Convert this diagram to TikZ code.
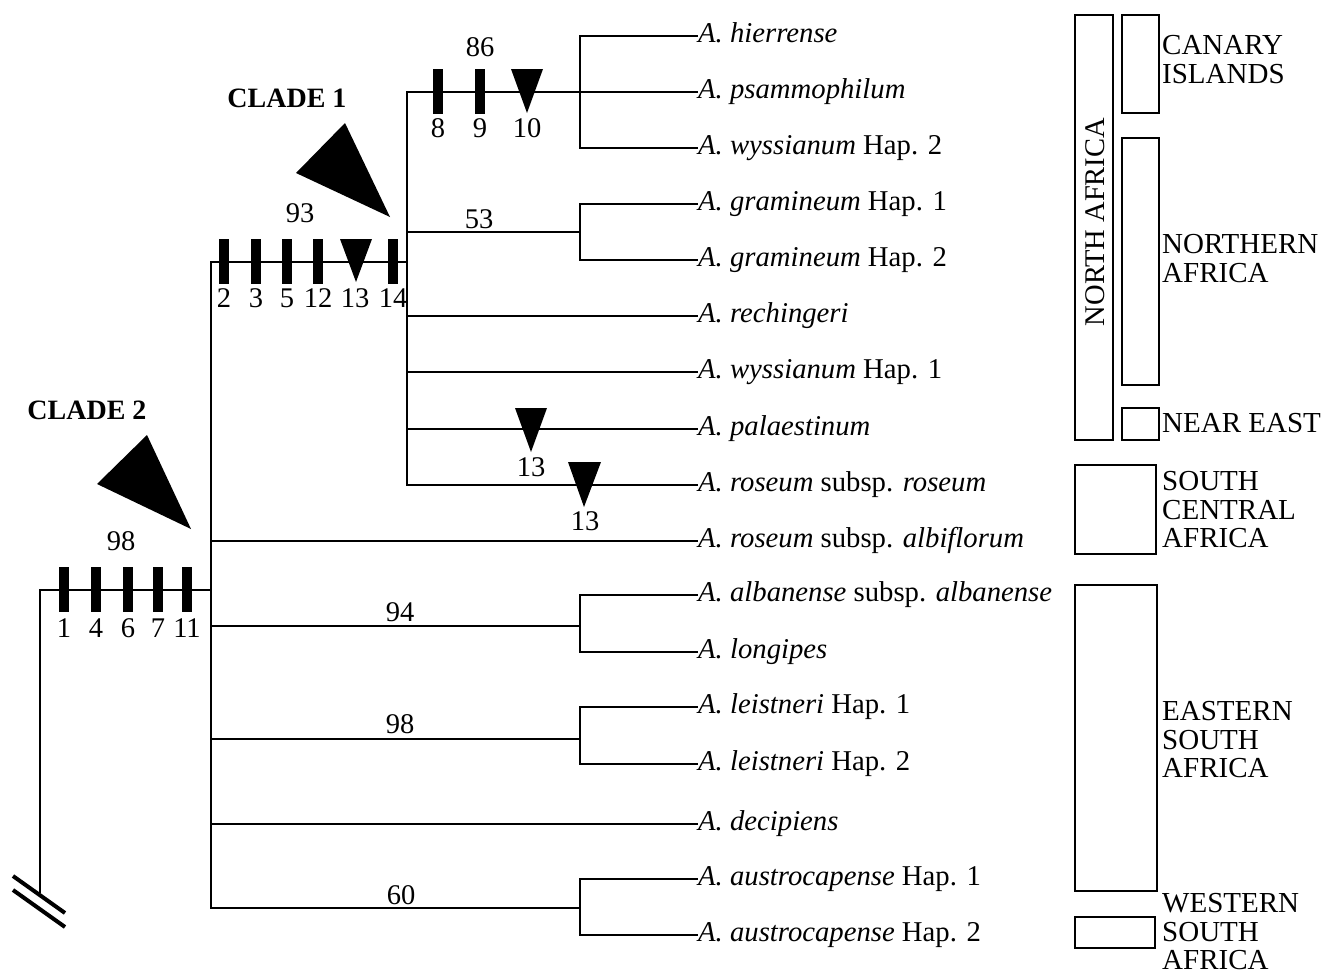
\documentclass[tikz,border=0pt]{standalone}
\usepackage{fontspec}
\setmainfont{Liberation Serif}
\begin{document}
\begin{tikzpicture}[x=1pt,y=-1pt,
  br/.style={line width=1.8pt},
  leaf/.style={anchor=west,inner sep=0pt,text height=19pt,text depth=6pt,font=\fontsize{28.7}{30}\selectfont},
  num/.style={inner sep=0pt,font=\fontsize{28.5}{30}\selectfont},
  clade/.style={inner sep=0pt,font=\fontsize{28}{30}\selectfont\bfseries},
  region/.style={anchor=north west,align=left,inner sep=0pt,font=\fontsize{29}{28.7}\selectfont},
  rbox/.style={draw,line width=1.8pt},
  charbar/.style={fill=black},
  chartri/.style={fill=black},
  hashmark/.style={line width=4pt}]
\useasboundingbox (0,0) rectangle (1322,972);

% leaves
\node[leaf] (hie) at (698,36) {\textit{A. hierrense}};
\node[leaf] (psa) at (698,92) {\textit{A. psammophilum}};
\node[leaf] (wy2) at (698,148) {\textit{A. wyssianum} Hap. 2};
\node[leaf] (gr1) at (698,204) {\textit{A. gramineum} Hap. 1};
\node[leaf] (gr2) at (698,260) {\textit{A. gramineum} Hap. 2};
\node[leaf] (rec) at (698,316) {\textit{A. rechingeri}};
\node[leaf] (wy1) at (698,372) {\textit{A. wyssianum} Hap. 1};
\node[leaf] (pal) at (698,429) {\textit{A. palaestinum}};
\node[leaf] (ros) at (698,485) {\textit{A. roseum} subsp. \textit{roseum}};
\node[leaf] (alb) at (698,541) {\textit{A. roseum} subsp. \textit{albiflorum}};
\node[leaf] (aba) at (698,595) {\textit{A. albanense} subsp. \textit{albanense}};
\node[leaf] (lon) at (698,652) {\textit{A. longipes}};
\node[leaf] (le1) at (698,707) {\textit{A. leistneri} Hap. 1};
\node[leaf] (le2) at (698,764) {\textit{A. leistneri} Hap. 2};
\node[leaf] (dec) at (698,824) {\textit{A. decipiens}};
\node[leaf] (au1) at (698,879) {\textit{A. austrocapense} Hap. 1};
\node[leaf] (au2) at (698,935) {\textit{A. austrocapense} Hap. 2};

% internal nodes
\coordinate (rb) at (40,893);
\coordinate (r) at (40,590);
\coordinate (n2) at (211,590);
\coordinate (n1) at (407,262);
\coordinate (nA) at (580,92);
\coordinate (nG) at (580,232);
\coordinate (nB) at (580,626);
\coordinate (nL) at (580,739);
\coordinate (nS) at (580,908);

% branches
\draw[br] (rb) -- (r) -- (n2);
\draw[br] (n2) |- (n1);
\draw[br] (n2) |- (alb.west);
\draw[br] (n2) |- (nB);
\draw[br] (n2) |- (nL);
\draw[br] (n2) |- (dec.west);
\draw[br] (n2) |- (nS);
\draw[br] (n1) |- (nA);
\draw[br] (n1) |- (nG);
\draw[br] (n1) |- (rec.west);
\draw[br] (n1) |- (wy1.west);
\draw[br] (n1) |- (pal.west);
\draw[br] (n1) |- (ros.west);
\draw[br] (nA) |- (hie.west);
\draw[br] (nA) -- (psa.west);
\draw[br] (nA) |- (wy2.west);
\draw[br] (nG) |- (gr1.west);
\draw[br] (nG) |- (gr2.west);
\draw[br] (nB) |- (aba.west);
\draw[br] (nB) |- (lon.west);
\draw[br] (nL) |- (le1.west);
\draw[br] (nL) |- (le2.west);
\draw[br] (nS) |- (au1.west);
\draw[br] (nS) |- (au2.west);

% root break marks
\draw[hashmark] (13,876) -- (65,913);
\draw[hashmark] (13,890) -- (65,927);

% clade 2 characters
\foreach \x/\t in {64/1,96/4,128/6,158/7,187/11}{
  \fill[charbar] (\x-5,567) rectangle (\x+5,612);
  \node[num] at (\x,628) {\t};
}
% clade 1 characters
\foreach \x/\t in {224/2,256/3,287/5,318/12,393/14}{
  \fill[charbar] (\x-5,239) rectangle (\x+5,284);
  \node[num] at (\x,298) {\t};
}
\fill[chartri] (340,239) -- (372,239) -- (356,282) -- cycle;
\node[num] at (355,298) {13};
% canary clade characters
\foreach \x/\t in {438/8,480/9}{
  \fill[charbar] (\x-5,69) rectangle (\x+5,114);
  \node[num] at (\x,128) {\t};
}
\fill[chartri] (511,69) -- (543,69) -- (527,113) -- cycle;
\node[num] at (527,128) {10};
% palaestinum / roseum
\fill[chartri] (515,408) -- (547,408) -- (531,452) -- cycle;
\node[num] at (531,467) {13};
\fill[chartri] (568,462) -- (601,462) -- (584,507) -- cycle;
\node[num] at (585,521) {13};

% clade markers
\fill[chartri] (147,435) -- (97,484) -- (191,529) -- cycle;
\node[clade] at (87,410) {CLADE 2};
\fill[chartri] (345,123) -- (296,173) -- (390,217) -- cycle;
\node[clade] at (287,98) {CLADE 1};

% support values
\node[num] at (480,47) {86};
\node[num] at (300,213) {93};
\node[num] at (479,219) {53};
\node[num] at (121,541) {98};
\node[num] at (400,612) {94};
\node[num] at (400,724) {98};
\node[num] at (401,895) {60};

% regions
\draw[rbox] (1075,15) rectangle (1113,440);
\node[num,rotate=90] at (1095,222) {NORTH AFRICA};
\draw[rbox] (1122,15) rectangle (1159,113);
\draw[rbox] (1122,138) rectangle (1159,385);
\draw[rbox] (1122,408) rectangle (1159,440);
\draw[rbox] (1075,465) rectangle (1156,554);
\draw[rbox] (1075,585) rectangle (1157,891);
\draw[rbox] (1075,917) rectangle (1155,948);
\node[region] at (1162,35) {CANARY\\ISLANDS};
\node[region] at (1162,234) {NORTHERN\\AFRICA};
\node[region] at (1162,413) {NEAR EAST};
\node[region] at (1162,471) {SOUTH\\CENTRAL\\AFRICA};
\node[region] at (1162,701) {EASTERN\\SOUTH\\AFRICA};
\node[region] at (1162,893) {WESTERN\\SOUTH\\AFRICA};
\end{tikzpicture}
\end{document}
